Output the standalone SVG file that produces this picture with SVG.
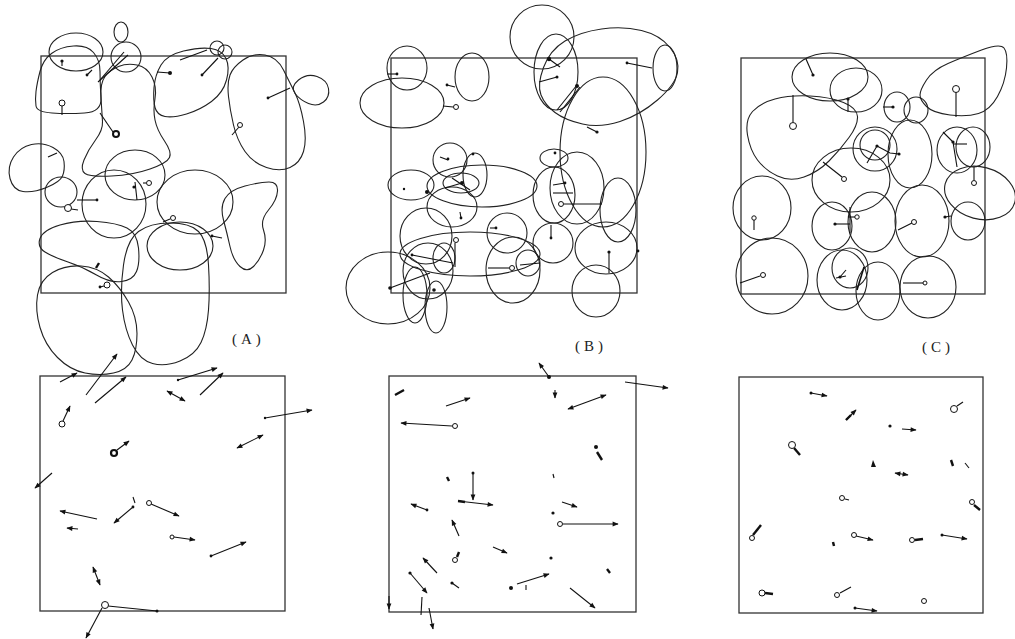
<svg xmlns="http://www.w3.org/2000/svg" width="1015" height="639" viewBox="0 0 1015 639">
<style>
.f{fill:none;stroke:#333;stroke-width:1.3}
.b{fill:none;stroke:#222;stroke-width:1.1}
.r{stroke:#111;stroke-width:1.1;fill:none}
.t{stroke:#111;stroke-width:2.4;fill:none}
.d{fill:#111}
.o{fill:#fff;stroke:#111;stroke-width:1}
.a{stroke:#111;stroke-width:1.1;fill:none;marker-end:url(#ah)}
.aa{stroke:#111;stroke-width:1.1;fill:none;marker-end:url(#ah);marker-start:url(#ah)}
.lbl{font-family:"Liberation Serif","Times New Roman",serif;font-size:15px;fill:#222;letter-spacing:4px}
</style>
<defs>
<marker id="ah" viewBox="0 0 10 10" refX="9" refY="5" markerWidth="7" markerHeight="6" markerUnits="userSpaceOnUse" orient="auto-start-reverse"><path d="M0,1 L10,5 L0,9 z" fill="#111"/></marker>
</defs>
<rect width="1015" height="639" fill="#fff"/>

<g id="panelA-top">
<rect class="f" x="41" y="56" width="245" height="237"/>
<ellipse class="b" cx="76" cy="52" rx="27" ry="19"/>
<ellipse class="b" cx="121" cy="32" rx="7" ry="10"/>
<circle class="b" cx="126" cy="57" r="15"/>
<circle class="b" cx="217" cy="48" r="7"/>
<circle class="b" cx="225" cy="52" r="7"/>
<path class="b" d="M40,71.5 Q43,60 51.5,53.5 Q60,47 73.5,46 Q87,45 93.5,52.5 Q100,60 100,71.5 Q100,83 101,97.5 Q102,112 84.5,113 Q67,114 52,113 Q37,112 36,106 Q35,100 36,91.5 Q37,83 40,71.5 Z"/>
<path class="b" d="M105,76.5 Q100,83 101,98 Q102,113 102.5,121.5 Q103,130 95.5,140 Q88,150 84,160 Q80,170 85,173.5 Q90,177 111.5,176 Q133,175 150,169 Q167,163 169.5,157.5 Q172,152 164.5,141 Q157,130 155,120 Q153,110 155,98.5 Q157,87 152,77 Q147,67 137,65 Q127,63 118.5,66.5 Q110,70 105,76.5 Z"/>
<path class="b" d="M154,87.5 Q155,75 161,65 Q167,55 183.5,51 Q200,47 211,48.5 Q222,50 226,58.5 Q230,67 226.5,80 Q223,93 211.5,101.5 Q200,110 186.5,114 Q173,118 165,116.5 Q157,115 155,107.5 Q153,100 154,87.5 Z"/>
<path class="b" d="M230,75 Q233,67 243,60 Q253,53 265,55 Q277,57 283.5,70 Q290,83 295,93 Q300,103 303.5,121.5 Q307,140 303.5,151.5 Q300,163 290,167.5 Q280,172 266.5,167.5 Q253,163 245,151.5 Q237,140 233.5,125 Q230,110 228.5,96.5 Q227,83 230,75 Z"/>
<path class="b" d="M295,93.5 Q290,87 298.5,80 Q307,73 317,76.5 Q327,80 328.5,88.5 Q330,97 323.5,102 Q317,107 308.5,103.5 Q300,100 295,93.5 Z"/>
<path class="b" d="M10,178.5 Q7,167 13.5,157 Q20,147 31.5,144.5 Q43,142 53,147.5 Q63,153 64,161.5 Q65,170 62.5,176 Q60,182 46.5,187.5 Q33,193 23,191.5 Q13,190 10,178.5 Z"/>
<ellipse class="b" cx="61" cy="192" rx="16" ry="15"/>
<ellipse class="b" cx="135" cy="175" rx="30" ry="25"/>
<ellipse class="b" cx="114" cy="204" rx="32" ry="34"/>
<ellipse class="b" cx="195" cy="202" rx="38" ry="32"/>
<path class="b" d="M225,198.5 Q230,190 245,186 Q260,182 269,182 Q278,182 277.5,191 Q277,200 268.5,210 Q260,220 263.5,230 Q267,240 263.5,250 Q260,260 253.5,266.5 Q247,273 240,266.5 Q233,260 230,246.5 Q227,233 223.5,220 Q220,207 225,198.5 Z"/>
<ellipse class="b" cx="180" cy="246" rx="33" ry="24"/>
<path class="b" d="M45,252 Q37,247 40,238.5 Q43,230 60,225 Q77,220 97,221.5 Q117,223 127,228 Q137,233 138.5,248 Q140,263 136.5,271.5 Q133,280 121.5,281.5 Q110,283 96.5,275 Q83,267 68,262 Q53,257 45,252 Z"/>
<path class="b" d="M37.5,295 Q40,280 52.5,272.5 Q65,265 81,266 Q97,267 108.5,277 Q120,287 128.5,302 Q137,317 137,333.5 Q137,350 132,360 Q127,370 113.5,373 Q100,376 85,373 Q70,370 57.5,357.5 Q45,345 40,327.5 Q35,310 37.5,295 Z"/>
<path class="b" d="M123.5,265 Q127,240 138.5,231.5 Q150,223 170,223 Q190,223 198.5,231.5 Q207,240 208.5,265 Q210,290 208.5,310 Q207,330 201,342.5 Q195,355 180,361 Q165,367 152.5,363.5 Q140,360 132.5,345 Q125,330 122.5,310 Q120,290 123.5,265 Z"/>
<line class="r" x1="62" y1="60" x2="62" y2="66"/><circle class="d" cx="62" cy="61" r="1.6"/>
<line class="r" x1="87" y1="75" x2="92" y2="70"/><circle class="d" cx="87" cy="75" r="1.4"/>
<line class="r" x1="98" y1="82" x2="128" y2="55"/><line class="r" x1="100" y1="80" x2="124" y2="52"/>
<line class="r" x1="62" y1="106" x2="62" y2="115"/><circle class="o" cx="62" cy="103" r="3"/>
<line class="r" x1="100" y1="113" x2="113" y2="132"/><circle cx="116" cy="134" r="3" fill="#fff" stroke="#111" stroke-width="2"/>
<line class="r" x1="157" y1="72" x2="170" y2="73"/><circle class="d" cx="170" cy="73" r="2"/>
<line class="r" x1="180" y1="60" x2="207" y2="50"/>
<line class="r" x1="202" y1="75" x2="218" y2="58"/><circle class="d" cx="202" cy="75" r="1.4"/>
<line class="r" x1="268" y1="98" x2="290" y2="88"/><circle class="d" cx="268" cy="98" r="1.4"/>
<line class="r" x1="239" y1="127" x2="232" y2="135"/><circle class="o" cx="240" cy="125" r="2.5"/>
<line class="r" x1="48" y1="157" x2="57" y2="153"/>
<line class="r" x1="71" y1="209" x2="78" y2="210"/><circle class="o" cx="68" cy="208" r="3.5"/>
<line class="r" x1="77" y1="200" x2="97" y2="200"/><circle class="d" cx="97" cy="200" r="1.4"/>
<line class="r" x1="135" y1="182" x2="137" y2="200"/><circle class="d" cx="134" cy="187" r="1.6"/>
<line class="r" x1="143" y1="183" x2="146" y2="183"/><circle class="o" cx="149" cy="183" r="2.5"/>
<line class="r" x1="170" y1="219" x2="163" y2="222"/><circle class="o" cx="173" cy="218" r="2.5"/>
<line class="r" x1="212" y1="236" x2="222" y2="238"/><circle class="d" cx="212" cy="236" r="1.4"/>
<line class="t" x1="96" y1="268" x2="99" y2="263"/>
<line class="r" x1="104" y1="286" x2="100" y2="287"/><circle class="o" cx="107" cy="285" r="3"/><circle class="d" cx="100" cy="287" r="1.4"/>
</g>

<g id="panelB-top">
<rect class="f" x="391" y="58" width="246" height="235"/>
<ellipse class="b" cx="407" cy="68" rx="20" ry="22"/>
<ellipse class="b" cx="402" cy="103" rx="42" ry="25"/>
<ellipse class="b" cx="472" cy="77" rx="17" ry="24"/>
<circle class="b" cx="542" cy="37" r="32"/>
<ellipse class="b" cx="556" cy="72" rx="22" ry="38"/>
<path class="b" d="M541,95 Q537,85 543.5,67.5 Q550,50 565,41 Q580,32 601.5,29 Q623,26 641.5,30.5 Q660,35 670,47.5 Q680,60 677.5,72.5 Q675,85 657.5,100 Q640,115 620,121.5 Q600,128 582.5,124 Q565,120 555,112.5 Q545,105 541,95 Z"/>
<ellipse class="b" cx="665" cy="68" rx="12" ry="23"/>
<ellipse class="b" cx="603" cy="152" rx="43" ry="75"/>
<ellipse class="b" cx="554" cy="158" rx="14" ry="9"/>
<circle class="b" cx="450" cy="160" r="17"/>
<ellipse class="b" cx="411" cy="185" rx="23" ry="15"/>
<ellipse class="b" cx="482" cy="186" rx="55" ry="21"/>
<ellipse class="b" cx="475" cy="175" rx="12" ry="22"/>
<ellipse class="b" cx="461" cy="183" rx="18" ry="10"/>
<ellipse class="b" cx="452" cy="207" rx="25" ry="20"/>
<ellipse class="b" cx="554" cy="195" rx="21" ry="28"/>
<ellipse class="b" cx="577" cy="188" rx="27" ry="36"/>
<ellipse class="b" cx="618" cy="210" rx="18" ry="32"/>
<ellipse class="b" cx="426" cy="236" rx="26" ry="28"/>
<ellipse class="b" cx="507" cy="233" rx="20" ry="20"/>
<ellipse class="b" cx="553" cy="243" rx="20" ry="20"/>
<ellipse class="b" cx="606" cy="248" rx="31" ry="26"/>
<ellipse class="b" cx="596" cy="291" rx="24" ry="26"/>
<ellipse class="b" cx="513" cy="270" rx="27" ry="33"/>
<ellipse class="b" cx="528" cy="263" rx="12" ry="13"/>
<ellipse class="b" cx="388" cy="288" rx="42" ry="36"/>
<ellipse class="b" cx="428" cy="271" rx="25" ry="28"/>
<ellipse class="b" cx="415" cy="295" rx="12" ry="28"/>
<ellipse class="b" cx="436" cy="307" rx="11" ry="26"/>
<ellipse class="b" cx="444" cy="258" rx="11" ry="15"/>
<ellipse class="b" cx="470" cy="254" rx="70" ry="22"/>
<line class="r" x1="387" y1="74" x2="397" y2="74"/><circle class="d" cx="397" cy="74" r="1.4"/>
<line class="r" x1="447" y1="85" x2="455" y2="87"/><circle class="d" cx="447" cy="85" r="1.4"/>
<line class="r" x1="443" y1="106" x2="453" y2="107"/><circle class="o" cx="456" cy="107" r="2.5"/>
<line class="r" x1="549" y1="59" x2="560" y2="67"/><circle class="d" cx="549" cy="59" r="2.2"/>
<line class="r" x1="539" y1="82" x2="557" y2="77"/><circle class="d" cx="557" cy="77" r="1.5"/>
<line class="r" x1="557" y1="110" x2="577" y2="85"/><line class="r" x1="560" y1="112" x2="580" y2="87"/><circle class="d" cx="577" cy="86" r="2"/>
<line class="r" x1="627" y1="63" x2="652" y2="68"/><circle class="d" cx="627" cy="63" r="1.4"/>
<line class="r" x1="587" y1="127" x2="597" y2="132"/><circle class="d" cx="597" cy="132" r="1.6"/>
<circle class="d" cx="555" cy="153" r="1.4"/>
<line class="r" x1="440" y1="157" x2="448" y2="160"/><circle class="d" cx="448" cy="159" r="1.4"/>
<circle class="d" cx="473" cy="154" r="1.4"/>
<circle class="d" cx="404" cy="189" r="1.2"/>
<circle class="d" cx="427" cy="192" r="2"/>
<line class="r" x1="452" y1="178" x2="470" y2="190"/><line class="r" x1="445" y1="188" x2="462" y2="183"/><circle class="d" cx="462" cy="183" r="2"/>
<line class="r" x1="553" y1="185" x2="565" y2="183"/><circle class="d" cx="565" cy="183" r="1.4"/>
<line class="r" x1="553" y1="193" x2="573" y2="193"/>
<line class="r" x1="564" y1="204" x2="602" y2="204"/><circle class="o" cx="561" cy="204" r="2.5"/>
<line class="r" x1="461" y1="218" x2="460" y2="212"/><circle class="d" cx="461" cy="218" r="1.4"/>
<line class="r" x1="490" y1="228" x2="496" y2="228"/><circle class="d" cx="496" cy="228" r="1.4"/>
<line class="r" x1="455" y1="243" x2="455" y2="267"/><circle class="o" cx="456" cy="240" r="2.5"/>
<line class="r" x1="551" y1="225" x2="551" y2="238"/><circle class="d" cx="551" cy="238" r="1.4"/>
<line class="r" x1="609" y1="252" x2="609" y2="273"/><circle class="d" cx="609" cy="252" r="1.6"/>
<line class="r" x1="488" y1="268" x2="509" y2="268"/><circle class="o" cx="512" cy="268" r="2.5"/>
<line class="r" x1="390" y1="288" x2="430" y2="273"/><circle class="d" cx="390" cy="288" r="1.8"/>
<line class="r" x1="520" y1="265" x2="540" y2="263"/>
<circle class="d" cx="638" cy="251" r="1.4"/>
<line class="r" x1="412" y1="255" x2="453" y2="263"/><circle class="d" cx="412" cy="255" r="1.4"/>
<circle class="d" cx="434" cy="290" r="1.8"/>
</g>

<g id="panelC-top">
<rect class="f" x="741" y="58" width="244" height="236"/>
<ellipse class="b" cx="830" cy="77" rx="38" ry="24"/>
<ellipse class="b" cx="856" cy="90" rx="26" ry="22"/>
<path class="b" d="M747.5,135 Q745,120 752.5,111.5 Q760,103 775,99 Q790,95 810,96 Q830,97 843.5,102.5 Q857,108 857.5,116.5 Q858,125 849,137.5 Q840,150 829,161 Q818,172 804,177 Q790,182 777.5,176 Q765,170 757.5,160 Q750,150 747.5,135 Z"/>
<path class="b" d="M920,95 Q920,90 926.5,80 Q933,70 948,63.5 Q963,57 981.5,50 Q1000,43 1004,48 Q1008,53 1006.5,68 Q1005,83 997.5,96.5 Q990,110 978.5,113.5 Q967,117 950,115 Q933,113 926.5,106.5 Q920,100 920,95 Z"/>
<ellipse class="b" cx="897" cy="107" rx="13" ry="15"/>
<ellipse class="b" cx="916" cy="110" rx="12" ry="13"/>
<circle class="b" cx="875" cy="149" r="22"/>
<circle class="b" cx="875" cy="145" r="15"/>
<ellipse class="b" cx="910" cy="154" rx="22" ry="34"/>
<ellipse class="b" cx="957" cy="150" rx="20" ry="23"/>
<ellipse class="b" cx="973" cy="147" rx="17" ry="20"/>
<ellipse class="b" cx="851" cy="180" rx="39" ry="32"/>
<ellipse class="b" cx="980" cy="193" rx="36" ry="26" transform="rotate(15 980 193)"/>
<ellipse class="b" cx="762" cy="208" rx="29" ry="32"/>
<ellipse class="b" cx="832" cy="226" rx="20" ry="24"/>
<ellipse class="b" cx="872" cy="222" rx="24" ry="30"/>
<ellipse class="b" cx="922" cy="221" rx="27" ry="36"/>
<ellipse class="b" cx="968" cy="221" rx="17" ry="19"/>
<ellipse class="b" cx="772" cy="276" rx="36" ry="38"/>
<ellipse class="b" cx="842" cy="280" rx="25" ry="30"/>
<ellipse class="b" cx="850" cy="268" rx="18" ry="20"/>
<ellipse class="b" cx="878" cy="291" rx="22" ry="29"/>
<ellipse class="b" cx="928" cy="287" rx="28" ry="31"/>
<line class="r" x1="813" y1="75" x2="806" y2="59"/><circle class="d" cx="813" cy="75" r="1.6"/>
<line class="r" x1="848" y1="99" x2="848" y2="112"/><circle class="d" cx="848" cy="99" r="1.6"/>
<line class="r" x1="793" y1="122" x2="793" y2="95"/><circle class="o" cx="793" cy="126" r="3.5"/>
<line class="r" x1="893" y1="107" x2="883" y2="107"/><circle class="d" cx="893" cy="107" r="1.6"/>
<line class="r" x1="956" y1="92" x2="956" y2="117"/><circle class="o" cx="956" cy="89" r="3.5"/>
<line class="r" x1="877" y1="146" x2="867" y2="163"/><polyline class="r" points="877,146 890,153 899,154"/><circle class="d" cx="877" cy="146" r="1.6"/><circle class="d" cx="899" cy="154" r="1.6"/>
<line class="r" x1="953" y1="142" x2="943" y2="132"/><line class="r" x1="953" y1="144" x2="967" y2="144"/><line class="r" x1="953" y1="142" x2="957" y2="167"/><circle class="d" cx="953" cy="142" r="1.6"/>
<line class="r" x1="974" y1="180" x2="974" y2="167"/><circle class="o" cx="974" cy="183" r="2.5"/>
<line class="r" x1="842" y1="177" x2="823" y2="162"/><circle class="o" cx="844" cy="179" r="2.5"/>
<line class="r" x1="754" y1="220" x2="754" y2="230"/><circle class="o" cx="754" cy="218" r="2.2"/>
<line class="r" x1="855" y1="217" x2="848" y2="217"/><line class="r" x1="835" y1="224" x2="850" y2="224"/><line class="r" x1="850" y1="207" x2="850" y2="233"/><circle class="o" cx="857" cy="217" r="2.2"/><circle class="d" cx="835" cy="224" r="1.6"/>
<line class="r" x1="912" y1="223" x2="898" y2="230"/><circle class="o" cx="914" cy="222" r="2.5"/>
<line class="r" x1="945" y1="217" x2="951" y2="216"/><circle class="d" cx="945" cy="217" r="1.6"/>
<line class="r" x1="760" y1="276" x2="740" y2="283"/><circle class="o" cx="763" cy="275" r="2.5"/>
<line class="r" x1="840" y1="277" x2="846" y2="270"/><line class="r" x1="836" y1="278" x2="846" y2="276"/><circle class="d" cx="840" cy="277" r="1.6"/>
<line class="r" x1="925" y1="283" x2="903" y2="283"/><circle class="o" cx="925" cy="283" r="2"/>
<line class="t" x1="857" y1="290" x2="864" y2="267" style="stroke-width:1.6"/>
</g>

<g id="labels">
<text class="lbl" x="232" y="344">(A)</text>
<text class="lbl" x="575" y="351">(B)</text>
<text class="lbl" x="922" y="352">(C)</text>
</g>

<g id="panelA-bottom">
<rect class="f" x="40" y="376" width="245" height="235"/>
<line class="a" x1="60" y1="382" x2="77" y2="373"/>
<line class="a" x1="86" y1="395" x2="117" y2="354"/>
<line class="a" x1="95" y1="403" x2="126" y2="377"/>
<line class="a" x1="178" y1="380" x2="217" y2="368"/><circle class="d" cx="178" cy="380" r="1.2"/>
<line class="a" x1="200" y1="395" x2="223" y2="373"/>
<line class="aa" x1="167" y1="391" x2="185" y2="401"/>
<line class="a" x1="265" y1="418" x2="312" y2="410"/><circle class="d" cx="265" cy="418" r="1.2"/>
<line class="a" x1="63" y1="421" x2="70" y2="406"/><circle class="o" cx="62" cy="424" r="3"/>
<line class="a" x1="117" y1="450" x2="129" y2="441"/><circle cx="114" cy="453" r="3" fill="#fff" stroke="#111" stroke-width="2.2"/>
<line class="aa" x1="237" y1="448" x2="263" y2="435"/>
<line class="a" x1="52" y1="473" x2="35" y2="488"/>
<line class="r" x1="133" y1="497" x2="135" y2="503"/>
<line class="a" x1="133" y1="507" x2="114" y2="523"/><circle class="d" cx="133" cy="507" r="1.4"/>
<line class="a" x1="151" y1="504" x2="179" y2="516"/><circle class="o" cx="149" cy="503" r="2.5"/>
<line class="a" x1="97" y1="519" x2="60" y2="511"/>
<line class="a" x1="78" y1="529" x2="67" y2="528"/>
<line class="a" x1="174" y1="537" x2="195" y2="540"/><circle class="o" cx="172" cy="537" r="2"/>
<line class="a" x1="211" y1="556" x2="246" y2="542"/><circle class="d" cx="211" cy="556" r="1.4"/>
<line class="aa" x1="93" y1="567" x2="100" y2="585"/>
<line class="r" x1="108" y1="606" x2="157" y2="611"/><circle class="d" cx="157" cy="611" r="1.5"/>
<line class="a" x1="102" y1="608" x2="86" y2="638"/><circle class="o" cx="105" cy="605" r="3.5"/>
</g>

<g id="panelB-bottom">
<rect class="f" x="389" y="376" width="247" height="236"/>
<line class="t" x1="395" y1="395" x2="404" y2="390"/>
<line class="a" x1="446" y1="406" x2="470" y2="398"/>
<line class="a" x1="452" y1="426" x2="401" y2="423"/><circle class="o" cx="455" cy="426" r="2.5"/>
<line class="a" x1="549" y1="377" x2="539" y2="363"/><circle class="d" cx="549" cy="377" r="2"/>
<line class="a" x1="555" y1="390" x2="555" y2="398"/>
<line class="aa" x1="568" y1="409" x2="606" y2="395"/>
<line class="a" x1="625" y1="382" x2="668" y2="388"/>
<circle class="d" cx="596" cy="447" r="2"/><line class="t" x1="597" y1="452" x2="602" y2="460"/>
<line class="t" x1="447" y1="477" x2="449" y2="481"/>
<line class="a" x1="473" y1="473" x2="473" y2="500"/><circle class="d" cx="473" cy="473" r="1.5"/>
<line class="a" x1="458" y1="501" x2="493" y2="505"/><line class="t" x1="458" y1="501" x2="465" y2="502"/>
<line class="r" x1="553" y1="474" x2="554" y2="478"/>
<line class="a" x1="427" y1="510" x2="411" y2="504"/><circle class="d" cx="427" cy="510" r="1.4"/>
<line class="a" x1="562" y1="502" x2="577" y2="507"/>
<circle class="d" cx="553" cy="513" r="1.6"/>
<line class="a" x1="563" y1="524" x2="618" y2="524"/><circle class="o" cx="560" cy="524" r="2.5"/>
<line class="a" x1="459" y1="536" x2="452" y2="520"/>
<line class="t" x1="457" y1="557" x2="459" y2="552"/><circle class="o" cx="455" cy="560" r="2.5"/>
<line class="a" x1="493" y1="547" x2="507" y2="553"/>
<circle class="d" cx="551" cy="558" r="1.6"/>
<line class="a" x1="437" y1="573" x2="423" y2="558"/>
<line class="a" x1="410" y1="573" x2="427" y2="593"/><circle class="d" cx="410" cy="573" r="1.6"/>
<line class="r" x1="452" y1="583" x2="459" y2="588"/><circle class="d" cx="452" cy="583" r="1.6"/>
<line class="a" x1="517" y1="584" x2="549" y2="574"/><circle class="d" cx="511" cy="588" r="2"/><line class="r" x1="526" y1="585" x2="526" y2="590"/>
<line class="t" x1="607" y1="569" x2="610" y2="573"/>
<line class="a" x1="570" y1="588" x2="595" y2="608"/>
<line class="a" x1="389" y1="596" x2="389" y2="609"/>
<line class="r" x1="422" y1="597" x2="421" y2="615"/>
<line class="a" x1="429" y1="608" x2="433" y2="629"/>
</g>

<g id="panelC-bottom">
<rect class="f" x="739" y="377" width="244" height="236"/>
<line class="a" x1="811" y1="393" x2="827" y2="396"/><circle class="d" cx="811" cy="393" r="1.5"/>
<line class="a" x1="846" y1="420" x2="856" y2="410"/><line class="t" x1="846" y1="420" x2="851" y2="415"/>
<line class="r" x1="957" y1="406" x2="963" y2="402"/><circle class="o" cx="954" cy="409" r="3.5"/>
<line class="a" x1="902" y1="429" x2="916" y2="430"/><circle class="d" cx="890" cy="426" r="1.6"/>
<line class="t" x1="794" y1="448" x2="800" y2="455"/><circle class="o" cx="792" cy="445" r="3.5"/>
<path d="M871,467 L873,460 L876,467 z" fill="#111"/>
<line class="t" x1="951" y1="460" x2="953" y2="466"/>
<line class="r" x1="965" y1="463" x2="969" y2="468"/>
<line class="aa" x1="895" y1="473" x2="908" y2="475"/>
<line class="r" x1="845" y1="499" x2="849" y2="500"/><circle class="o" cx="842" cy="498" r="2.5"/>
<line class="t" x1="974" y1="505" x2="980" y2="510"/><circle class="o" cx="972" cy="502" r="2.5"/>
<line class="t" x1="753" y1="535" x2="761" y2="525"/><circle class="o" cx="752" cy="538" r="2.5"/>
<line class="a" x1="856" y1="536" x2="873" y2="540"/><circle class="o" cx="854" cy="535" r="2.5"/>
<line class="t" x1="833" y1="542" x2="834" y2="546"/>
<line class="t" x1="915" y1="540" x2="923" y2="539"/><circle class="o" cx="912" cy="540" r="2.5"/>
<line class="a" x1="942" y1="535" x2="967" y2="539"/><circle class="d" cx="942" cy="535" r="1.5"/>
<line class="t" x1="765" y1="593" x2="773" y2="594"/><circle class="o" cx="762" cy="593" r="3"/>
<line class="r" x1="840" y1="593" x2="851" y2="587"/><circle class="o" cx="837" cy="595" r="2.5"/>
<circle class="o" cx="924" cy="601" r="2.5"/>
<line class="a" x1="855" y1="608" x2="877" y2="611"/><circle class="d" cx="855" cy="608" r="1.5"/>
</g>
</svg>
